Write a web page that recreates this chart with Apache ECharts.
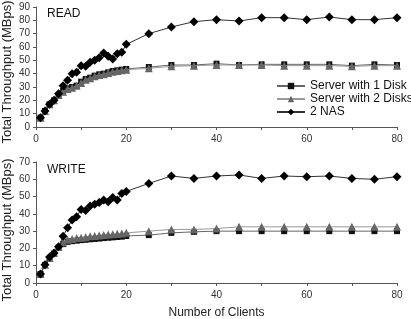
<!DOCTYPE html>
<html>
<head>
<meta charset="utf-8">
<script src="https://cdn.jsdelivr.net/npm/echarts@6/dist/echarts.min.js"></script>
<style>
  html, body { margin: 0; padding: 0; background: #fff; }
  #chart { width: 411px; height: 319px; }
</style>
</head>
<body>
<div id="chart"></div>
<script>
const clients = [1, 2, 3, 4, 5, 6, 7, 8, 9, 10, 11, 12, 13, 14, 15, 16, 17, 18, 19, 20,
  25, 30, 35, 40, 45, 50, 55, 60, 65, 70, 75, 80];

const readDisk1 = [7, 12, 17, 20, 24, 27, 29, 30, 31, 34, 36, 37, 38.5, 39.5, 40, 41, 42, 42.5, 43, 43.5,
  45, 46.5, 46.5, 47.5, 46.5, 47, 47, 47, 47, 46, 47, 46.5];
const readDisk2 = [7, 12, 17, 20, 24, 26.5, 28.5, 29.5, 31, 33, 35.5, 36.5, 38, 39, 39.5, 40.5, 41.5, 42, 42.5, 43,
  44, 45.5, 46, 46.5, 46.5, 46.5, 46, 46, 46, 45.5, 46, 46];
const readNas = [7, 12, 17, 20, 25, 31, 35, 40, 41, 46, 45.5, 48.5, 50, 52, 55.5, 53, 51, 55, 56, 62,
  70, 75, 79, 80.5, 79.5, 82, 82, 80.5, 82.5, 80.5, 80.5, 82];

const writeDisk1 = [5.2, 10.5, 14, 17, 20.5, 22.5, 23.8, 24.2, 24.5, 24.8, 25, 25.3, 25.5, 25.7, 26, 26.2, 26.4, 26.6, 26.8, 27.2,
  27.7, 29, 29.6, 30, 30, 30, 30, 30, 30, 30, 30, 30];
const writeDisk2 = [5.2, 10.5, 14.5, 17.5, 21, 23.5, 25, 25.5, 26, 26.2, 26.5, 27, 27.2, 27.5, 27.8, 28, 28.2, 28.5, 28.7, 29,
  30, 31, 31, 31.5, 32.5, 32.5, 32.5, 32.5, 32.5, 32.5, 32.5, 32.5];
const writeNas = [5.2, 10.6, 15, 17.4, 21, 27, 32, 36.4, 38.3, 42.5, 42, 44.5, 45.6, 46.6, 48, 47, 49.5, 48, 51.8, 53,
  57.6, 61.9, 60.5, 61.9, 62.5, 60.5, 61.9, 61.5, 61.9, 60.5, 60, 61.5];

const xTicks = [0, 20, 40, 60, 80];
const yTitle = 'Total Throughput (MBps)';

const font = 'Liberation Sans, Arial, sans-serif';
const pairs = (ys) => clients.map((x, i) => [x, ys[i]]);

const styles = [
  { name: 'Server with 1 Disk', symbol: 'rect', size: 6, color: '#111', line: '#666' },
  { name: 'Server with 2 Disks', symbol: 'triangle', size: 8, color: '#666', line: '#999' },
  { name: '2 NAS', symbol: 'diamond', size: 9, color: '#000', line: '#333' },
];

function xAxis(gridIndex, name) {
  return {
    type: 'value', gridIndex, min: 0, max: 80, interval: 10,
    name, nameLocation: 'middle', nameGap: 24,
    nameTextStyle: { fontFamily: font, fontSize: 12, color: '#222' },
    axisLine: { lineStyle: { color: '#555' } },
    axisTick: { length: 3, lineStyle: { color: '#555' } },
    axisLabel: {
      fontFamily: font, fontSize: 10, color: '#333', margin: 7,
      formatter: (v) => xTicks.includes(v) ? String(v) : '',
    },
    splitLine: { show: false },
  };
}

function yAxis(gridIndex, max) {
  return {
    type: 'value', gridIndex, min: 0, max, interval: 10,
    axisLine: { show: true, lineStyle: { color: '#555' } },
    axisTick: { show: true, length: 3, lineStyle: { color: '#555' } },
    axisLabel: { fontFamily: font, fontSize: 10, color: '#333', margin: 6 },
    splitLine: { show: false },
  };
}

function makeSeries(idx, datasets) {
  return datasets.map((ys, i) => ({
    name: styles[i].name,
    type: 'line',
    xAxisIndex: idx, yAxisIndex: idx,
    data: pairs(ys),
    symbol: styles[i].symbol,
    symbolSize: styles[i].size,
    itemStyle: { color: styles[i].color },
    lineStyle: { color: styles[i].line, width: 1 },
    z: 2 + i,
    animation: false,
  }));
}

const yTitleText = (y) => ({
  type: 'text', x: 14, y, rotation: Math.PI / 2,
  style: { text: yTitle, font: '13px ' + font, fill: '#222', align: 'center', verticalAlign: 'bottom' },
});

const chart = echarts.init(document.getElementById('chart'));
chart.setOption({
  backgroundColor: '#fff',
  title: [
    { text: 'READ', left: 47, top: 8, padding: 0, textStyle: { fontFamily: font, fontSize: 12, fontWeight: 'normal', color: '#111' } },
    { text: 'WRITE', left: 47, top: 164, padding: 0, textStyle: { fontFamily: font, fontSize: 12, fontWeight: 'normal', color: '#111' } },
  ],
  graphic: [yTitleText(72), yTitleText(230)],
  legend: {
    data: styles.map((s) => s.name),
    orient: 'vertical', left: 276, top: 80, padding: 0,
    itemWidth: 28, itemHeight: 8, itemGap: 1,
    textStyle: { fontFamily: font, fontSize: 12, color: '#111' },
  },
  grid: [
    { left: 36, right: 14, top: 7, height: 120, outerBoundsMode: 'none', containLabel: false },
    { left: 36, right: 14, top: 162, height: 121, outerBoundsMode: 'none', containLabel: false },
  ],
  xAxis: [xAxis(0, ''), xAxis(1, 'Number of Clients')],
  yAxis: [yAxis(0, 90), yAxis(1, 70)],
  series: [
    ...makeSeries(0, [readDisk1, readDisk2, readNas]),
    ...makeSeries(1, [writeDisk1, writeDisk2, writeNas]),
  ],
});
</script>
</body>
</html>
